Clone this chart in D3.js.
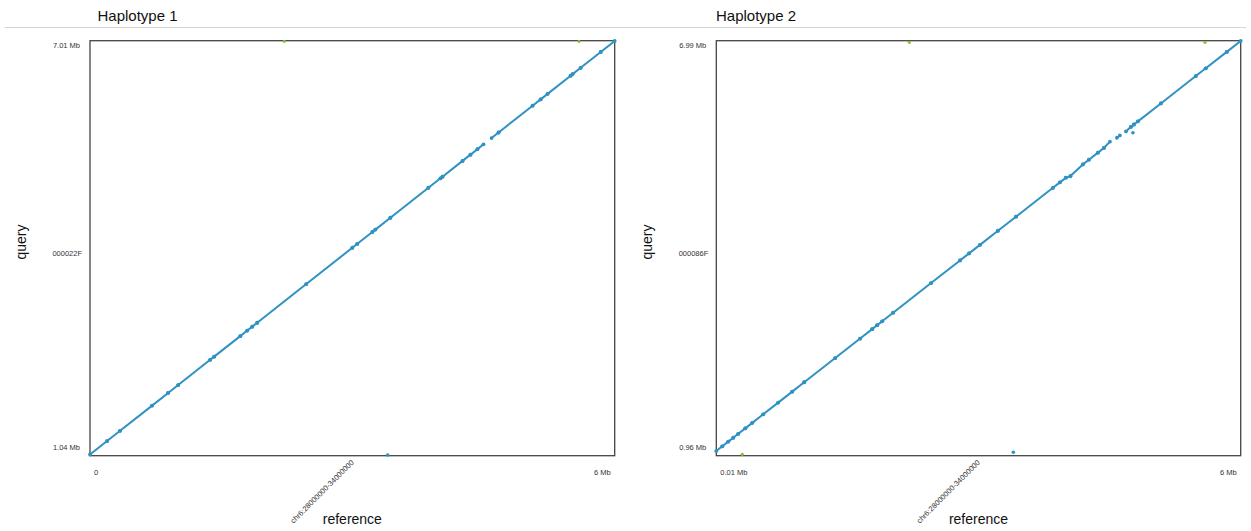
<!DOCTYPE html>
<html>
<head>
<meta charset="utf-8">
<script src="https://cdn.jsdelivr.net/npm/d3@7"></script>
<style>
  html, body { margin: 0; padding: 0; background: #ffffff; }
  svg { display: block; font-family: "Liberation Sans", Arial, sans-serif; }
</style>
</head>
<body>
<svg id="chart" width="1251" height="531"></svg>
<script>
// ---------------- DATA (values in Mb) ----------------
const titles = ["Haplotype 1", "Haplotype 2"];
const contigNames = ["000022F", "000086F"];
const refName = "chr6:28000000-34000000";
const xTickLabels = [["0", "6 Mb"], ["0.01 Mb", "6 Mb"]];
const yTickLabels = [["1.04 Mb", "7.01 Mb"], ["0.96 Mb", "6.99 Mb"]];
const xDomains = [[0, 6], [0.01, 6]];
const yDomains = [[1.04, 7.01], [0.96, 6.99]];

// Haplotype 1 alignments: [refStart, refEnd] and [queryStart, queryEnd]
const h1Ref = [
  [0, 0.195], [0.195, 0.344], [0.344, 0.71], [0.71, 0.893], [0.893, 1.008],
  [1.008, 1.374], [1.374, 1.42], [1.42, 1.718], [1.718, 1.798], [1.798, 1.855],
  [1.855, 1.912], [1.912, 2.473], [2.473, 3.0], [3.0, 3.057], [3.057, 3.229],
  [3.229, 3.263], [3.263, 3.435], [3.435, 3.87], [3.87, 4.008], [4.008, 4.031],
  [4.031, 4.26], [4.26, 4.351], [4.351, 4.431], [4.431, 4.5],
  [4.592, 4.672], [4.672, 5.061], [5.061, 5.153], [5.153, 5.233], [5.233, 5.496],
  [5.496, 5.519], [5.519, 5.611], [5.611, 5.84], [5.84, 6.0]
];
const h1Query = [
  [1.04, 1.234], [1.234, 1.382], [1.382, 1.746], [1.746, 1.929], [1.929, 2.043],
  [2.043, 2.407], [2.407, 2.453], [2.453, 2.749], [2.749, 2.829], [2.829, 2.886],
  [2.886, 2.942], [2.942, 3.501], [3.501, 4.025], [4.025, 4.082], [4.082, 4.253],
  [4.253, 4.287], [4.287, 4.458], [4.458, 4.891], [4.891, 5.028], [5.028, 5.051],
  [5.051, 5.279], [5.279, 5.369], [5.369, 5.449], [5.449, 5.518],
  [5.609, 5.689], [5.689, 6.076], [6.076, 6.167], [6.167, 6.247], [6.247, 6.509],
  [6.509, 6.532], [6.532, 6.623], [6.623, 6.851], [6.851, 7.01]
];
// small off-diagonal hits: [ref, query]
const h1BlueHits = [[3.404, 1.033]];
const h1GreenHits = [[2.222, 7.005], [5.592, 7.005]];

// Haplotype 2 alignments
const h2Ref = [
  [0.01, 0.078], [0.078, 0.147], [0.147, 0.204], [0.204, 0.261], [0.261, 0.341],
  [0.341, 0.421], [0.421, 0.546], [0.546, 0.717], [0.717, 0.877], [0.877, 1.014],
  [1.014, 1.368], [1.368, 1.653], [1.653, 1.790], [1.790, 1.847], [1.847, 1.904],
  [1.904, 2.030], [2.030, 2.463], [2.463, 2.794], [2.794, 2.897], [2.897, 3.022],
  [3.022, 3.227], [3.227, 3.433], [3.433, 3.855], [3.855, 3.935], [3.935, 4.003],
  [4.003, 4.055], [4.055, 4.197], [4.197, 4.266], [4.266, 4.369], [4.369, 4.437], [4.437, 4.506],
  [4.586, 4.620], [4.689, 4.746], [4.746, 4.780], [4.780, 4.826], [4.826, 5.088],
  [5.088, 5.487], [5.487, 5.601], [5.601, 5.841], [5.841, 6.0]
];
const h2Query = [
  [0.96, 1.029], [1.029, 1.098], [1.098, 1.155], [1.155, 1.213], [1.213, 1.293],
  [1.293, 1.374], [1.374, 1.500], [1.500, 1.672], [1.672, 1.833], [1.833, 1.971],
  [1.971, 2.327], [2.327, 2.614], [2.614, 2.752], [2.752, 2.810], [2.810, 2.867],
  [2.867, 2.994], [2.994, 3.430], [3.430, 3.763], [3.763, 3.866], [3.866, 3.992],
  [3.992, 4.199], [4.199, 4.406], [4.406, 4.831], [4.831, 4.911], [4.911, 4.980],
  [4.980, 5.000], [5.005, 5.175], [5.175, 5.244], [5.244, 5.348], [5.348, 5.417], [5.417, 5.510],
  [5.567, 5.601], [5.660, 5.728], [5.728, 5.762], [5.762, 5.808], [5.808, 6.072],
  [6.072, 6.474], [6.474, 6.588], [6.588, 6.830], [6.830, 6.99]
];
const h2BlueHits = [[3.403, 0.941], [4.769, 5.640]];
const h2GreenHits = [[2.215, 6.971], [5.592, 6.971], [0.307, 0.911]];

// ---------------- LAYOUT ----------------
const panels = [
  { left: 90, right: 614.7, top: 40.7, bottom: 455.7, yLo: 454.5, yHi: 41, titleX: 97.5,
    ref: h1Ref, query: h1Query, blue: h1BlueHits, green: h1GreenHits },
  { left: 716.3, right: 1240.7, top: 40.7, bottom: 455.7, yLo: 451, yHi: 41, titleX: 716,
    ref: h2Ref, query: h2Query, blue: h2BlueHits, green: h2GreenHits }
];
const blue = "#2f92c2";
const green = "#86bf3c";

const svg = d3.select("#chart");

// header separator
svg.append("line")
  .attr("x1", 5).attr("x2", 1246).attr("y1", 27.5).attr("y2", 27.5)
  .attr("stroke", "#d6d6d6").attr("stroke-width", 1);

panels.forEach((p, i) => {
  const x = d3.scaleLinear().domain(xDomains[i]).range([p.left, p.right]);
  const y = d3.scaleLinear().domain(yDomains[i]).range([p.yLo, p.yHi]);
  const g = svg.append("g");

  // title
  g.append("text").attr("x", p.titleX).attr("y", 20.5)
    .attr("font-size", 15).attr("fill", "#111").text(titles[i]);

  // box
  g.append("rect")
    .attr("x", p.left).attr("y", p.top)
    .attr("width", p.right - p.left).attr("height", p.bottom - p.top)
    .attr("fill", "#fff").attr("stroke", "#444").attr("stroke-width", 1.3);

  // alignments
  const segs = p.ref.map((r, k) => ({ r, q: p.query[k] }));
  g.selectAll("line.seg").data(segs).enter().append("line")
    .attr("class", "seg")
    .attr("x1", d => x(d.r[0])).attr("x2", d => x(d.r[1]))
    .attr("y1", d => y(d.q[0])).attr("y2", d => y(d.q[1]))
    .attr("stroke", blue).attr("stroke-width", 2);

  const ends = [];
  segs.forEach(d => { ends.push([d.r[0], d.q[0]]); ends.push([d.r[1], d.q[1]]); });
  g.selectAll("circle.end").data(ends).enter().append("circle")
    .attr("class", "end")
    .attr("cx", d => x(d[0])).attr("cy", d => y(d[1])).attr("r", 1.9)
    .attr("fill", blue);

  g.selectAll("circle.bh").data(p.blue).enter().append("circle")
    .attr("cx", d => x(d[0])).attr("cy", d => y(d[1])).attr("r", 1.8)
    .attr("fill", blue);
  g.selectAll("circle.gh").data(p.green).enter().append("circle")
    .attr("cx", d => x(d[0])).attr("cy", d => y(d[1])).attr("r", 1.6)
    .attr("fill", green);

  // y labels
  const ylab = g.append("g").attr("font-size", 7.5).attr("fill", "#333").attr("text-anchor", "end");
  ylab.append("text").attr("x", p.left - 10).attr("y", p.bottom - 5.5).text(yTickLabels[i][0]);
  ylab.append("text").attr("x", p.left - 10).attr("y", p.top + 7.5).text(yTickLabels[i][1]);
  ylab.append("text").attr("x", p.left - 8).attr("y", (p.top + p.bottom) / 2 + 7.5).text(contigNames[i]);

  // x labels
  const xlab = g.append("g").attr("font-size", 7.5).attr("fill", "#333");
  xlab.append("text").attr("x", p.left + 4).attr("y", 474.5).text(xTickLabels[i][0]);
  xlab.append("text").attr("x", p.right - 4).attr("y", 474.5).attr("text-anchor", "end").text(xTickLabels[i][1]);
  const cx = (p.left + p.right) / 2;
  xlab.append("text").attr("text-anchor", "end")
    .attr("transform", `translate(${cx + 2},${463}) rotate(-45)`)
    .text(refName);

  // axis titles
  g.append("text").attr("x", cx).attr("y", 523.5).attr("text-anchor", "middle")
    .attr("font-size", 14).attr("fill", "#111").text("reference");
  g.append("text").attr("text-anchor", "middle").attr("font-size", 14).attr("fill", "#111")
    .attr("transform", `translate(${p.left - 64},${242}) rotate(-90)`)
    .text("query");
});
</script>
</body>
</html>
